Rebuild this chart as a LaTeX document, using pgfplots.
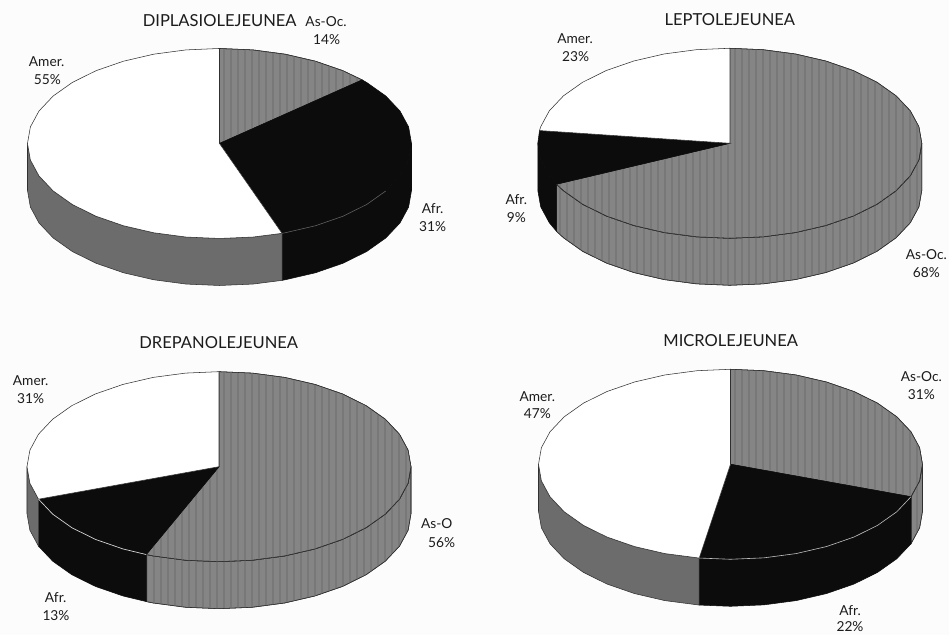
\documentclass[border=0pt]{standalone}
\usepackage{fontspec}
\setmainfont{Lato}
\usepackage{pgfplots}
\pgfplotsset{compat=1.18}
\usetikzlibrary{patterns.meta}
\definecolor{stripeg}{HTML}{858585}
\definecolor{stripel}{HTML}{787878}
\definecolor{rimg}{HTML}{6C6C6C}
\definecolor{inkk}{HTML}{0C0C0C}
\definecolor{edge}{HTML}{303030}
\definecolor{txt}{HTML}{1C1C1C}
\pgfplotsset{
  pie/.style={hide axis,clip=false,x=144pt,y=71.25pt,xmin=-1,xmax=1,ymin=-1.495,ymax=1,
    anchor=south west,no markers},
  asoc/.style={draw=edge,line width=.4pt,fill=stripeg,
    postaction={pattern={Lines[angle=90,distance=5.25pt,line width=2pt]},pattern color=stripel}},
  afr/.style={draw=inkk,line width=.4pt,fill=inkk},
  amer/.style={draw=edge,line width=.4pt,fill=white},
  amrim/.style={draw=edge,line width=.4pt,fill=rimg},
  seam/.style={draw=black!60,line width=.4pt},
}
% labels are placed in reference pixels
\newcommand{\ttl}[3]{\node[txt,inner sep=0pt,font=\fontsize{12.4}{14}\selectfont] at (#1*.75pt,{(635-#2)*.75pt}) {#3};}
\newcommand{\lab}[3]{\node[txt,inner sep=0pt,font=\fontsize{10.3}{12}\selectfont] at (#1*.75pt,{(635-#2)*.75pt}) {#3};}
\begin{document}
\begin{tikzpicture}
\fill[black!1] (0,0) rectangle (711.75pt,476.25pt);

% DIPLASIOLEJEUNEA
\begin{axis}[pie,at={(27.5*.75pt,349.5*.75pt)}]
\addplot[afr] coordinates {(1,0)(.985,-.174)(.940,-.342)(.866,-.5)(.766,-.643)(.643,-.766)(.5,-.866)(.342,-.940)(.326,-.946)
  (.326,-1.441)(.342,-1.435)(.5,-1.361)(.643,-1.261)(.766,-1.138)(.866,-.995)(.940,-.837)(.985,-.669)(1,-.495)} -- cycle;
\addplot[amrim] coordinates {(.326,-.946)(.174,-.985)(0,-1)(-.174,-.985)(-.342,-.940)(-.5,-.866)(-.643,-.766)(-.766,-.643)(-.866,-.5)(-.940,-.342)(-.985,-.174)(-1,0)
  (-1,-.495)(-.985,-.669)(-.940,-.837)(-.866,-.995)(-.766,-1.138)(-.643,-1.261)(-.5,-1.361)(-.342,-1.435)(-.174,-1.480)(0,-1.495)(.174,-1.480)(.326,-1.441)} -- cycle;
\addplot[asoc] coordinates {(0,0)(0,1)(.174,.985)(.342,.940)(.5,.866)(.643,.766)(.743,.669)} -- cycle;
\addplot[afr] coordinates {(0,0)(.743,.669)(.766,.643)(.866,.5)(.940,.342)(.985,.174)(1,0)(.985,-.174)(.940,-.342)(.866,-.5)(.766,-.643)(.643,-.766)(.5,-.866)(.342,-.940)(.326,-.946)} -- cycle;
\addplot[amer] coordinates {(0,0)(.326,-.946)(.174,-.985)(0,-1)(-.174,-.985)(-.342,-.940)(-.5,-.866)(-.643,-.766)(-.766,-.643)(-.866,-.5)(-.940,-.342)(-.985,-.174)(-1,0)(-.985,.174)(-.940,.342)(-.866,.5)(-.766,.643)(-.643,.766)(-.5,.866)(-.342,.940)(-.174,.985)(0,1)} -- cycle;
\addplot[seam] coordinates {(.866,-.5)(.766,-.643)(.643,-.766)(.5,-.866)(.342,-.940)(.326,-.946)};
\end{axis}

% LEPTOLEJEUNEA
\begin{axis}[pie,at={(537.8*.75pt,349.7*.75pt)}]
\addplot[asoc] coordinates {(1,0)(.985,-.174)(.940,-.342)(.866,-.5)(.766,-.643)(.643,-.766)(.5,-.866)(.342,-.940)(.174,-.985)(0,-1)(-.174,-.985)(-.342,-.940)(-.5,-.866)(-.643,-.766)(-.766,-.643)(-.866,-.5)(-.903,-.431)
  (-.903,-.926)(-.866,-.995)(-.766,-1.138)(-.643,-1.261)(-.5,-1.361)(-.342,-1.435)(-.174,-1.480)(0,-1.495)(.174,-1.480)(.342,-1.435)(.5,-1.361)(.643,-1.261)(.766,-1.138)(.866,-.995)(.940,-.837)(.985,-.669)(1,-.495)} -- cycle;
\addplot[afr] coordinates {(-.903,-.431)(-.940,-.342)(-.985,-.174)(-1,0)(-1,-.495)(-.985,-.669)(-.940,-.837)(-.903,-.926)} -- cycle;
\addplot[asoc] coordinates {(0,0)(0,1)(.174,.985)(.342,.940)(.5,.866)(.643,.766)(.766,.643)(.866,.5)(.940,.342)(.985,.174)(1,0)(.985,-.174)(.940,-.342)(.866,-.5)(.766,-.643)(.643,-.766)(.5,-.866)(.342,-.940)(.174,-.985)(0,-1)(-.174,-.985)(-.342,-.940)(-.5,-.866)(-.643,-.766)(-.766,-.643)(-.866,-.5)(-.903,-.431)} -- cycle;
\addplot[afr] coordinates {(0,0)(-.903,-.431)(-.940,-.342)(-.985,-.174)(-1,0)(-.991,.134)} -- cycle;
\addplot[amer] coordinates {(0,0)(-.991,.134)(-.985,.174)(-.940,.342)(-.866,.5)(-.766,.643)(-.643,.766)(-.5,.866)(-.342,.940)(-.174,.985)(0,1)} -- cycle;
\end{axis}

% DREPANOLEJEUNEA
\begin{axis}[pie,at={(27*.75pt,26.3*.75pt)}]
\addplot[asoc] coordinates {(1,0)(.985,-.174)(.940,-.342)(.866,-.5)(.766,-.643)(.643,-.766)(.5,-.866)(.342,-.940)(.174,-.985)(0,-1)(-.174,-.985)(-.342,-.940)(-.379,-.925)
  (-.379,-1.420)(-.342,-1.435)(-.174,-1.480)(0,-1.495)(.174,-1.480)(.342,-1.435)(.5,-1.361)(.643,-1.261)(.766,-1.138)(.866,-.995)(.940,-.837)(.985,-.669)(1,-.495)} -- cycle;
\addplot[afr] coordinates {(-.379,-.925)(-.5,-.866)(-.643,-.766)(-.766,-.643)(-.866,-.5)(-.940,-.342)
  (-.940,-.837)(-.866,-.995)(-.766,-1.138)(-.643,-1.261)(-.5,-1.361)(-.379,-1.420)} -- cycle;
\addplot[amrim] coordinates {(-.940,-.342)(-.985,-.174)(-1,0)(-1,-.495)(-.985,-.669)(-.940,-.837)} -- cycle;
\addplot[asoc] coordinates {(0,0)(0,1)(.174,.985)(.342,.940)(.5,.866)(.643,.766)(.766,.643)(.866,.5)(.940,.342)(.985,.174)(1,0)(.985,-.174)(.940,-.342)(.866,-.5)(.766,-.643)(.643,-.766)(.5,-.866)(.342,-.940)(.174,-.985)(0,-1)(-.174,-.985)(-.342,-.940)(-.379,-.925)} -- cycle;
\addplot[afr] coordinates {(0,0)(-.379,-.925)(-.5,-.866)(-.643,-.766)(-.766,-.643)(-.866,-.5)(-.940,-.342)} -- cycle;
\addplot[amer] coordinates {(0,0)(-.940,-.342)(-.985,-.174)(-1,0)(-.985,.174)(-.940,.342)(-.866,.5)(-.766,.643)(-.643,.766)(-.5,.866)(-.342,.940)(-.174,.985)(0,1)} -- cycle;
\addplot[draw=black!15,line width=.5pt] coordinates {(-.379,-.925)(-.5,-.866)(-.643,-.766)(-.766,-.643)(-.866,-.5)(-.940,-.342)};
\end{axis}

% MICROLEJEUNEA
\begin{axis}[pie,at={(538.5*.75pt,28.7*.75pt)}]
\addplot[asoc] coordinates {(1,0)(.985,-.174)(.940,-.342)(.940,-.837)(.985,-.669)(1,-.495)} -- cycle;
\addplot[afr] coordinates {(.940,-.342)(.866,-.5)(.766,-.643)(.643,-.766)(.5,-.866)(.342,-.940)(.174,-.985)(0,-1)(-.163,-.987)
  (-.163,-1.482)(0,-1.495)(.174,-1.480)(.342,-1.435)(.5,-1.361)(.643,-1.261)(.766,-1.138)(.866,-.995)(.940,-.837)} -- cycle;
\addplot[amrim] coordinates {(-.163,-.987)(-.342,-.940)(-.5,-.866)(-.643,-.766)(-.766,-.643)(-.866,-.5)(-.940,-.342)(-.985,-.174)(-1,0)
  (-1,-.495)(-.985,-.669)(-.940,-.837)(-.866,-.995)(-.766,-1.138)(-.643,-1.261)(-.5,-1.361)(-.342,-1.435)(-.163,-1.482)} -- cycle;
\addplot[asoc] coordinates {(0,0)(0,1)(.174,.985)(.342,.940)(.5,.866)(.643,.766)(.766,.643)(.866,.5)(.940,.342)(.985,.174)(1,0)(.985,-.174)(.940,-.342)} -- cycle;
\addplot[afr] coordinates {(0,0)(.940,-.342)(.866,-.5)(.766,-.643)(.643,-.766)(.5,-.866)(.342,-.940)(.174,-.985)(0,-1)(-.163,-.987)} -- cycle;
\addplot[amer] coordinates {(0,0)(-.163,-.987)(-.342,-.940)(-.5,-.866)(-.643,-.766)(-.766,-.643)(-.866,-.5)(-.940,-.342)(-.985,-.174)(-1,0)(-.985,.174)(-.940,.342)(-.866,.5)(-.766,.643)(-.643,.766)(-.5,.866)(-.342,.940)(-.174,.985)(0,1)} -- cycle;
\addplot[draw=black!25,line width=.45pt] coordinates {(.940,-.342)(.866,-.5)(.766,-.643)(.643,-.766)(.5,-.866)(.342,-.940)(.174,-.985)(0,-1)(-.163,-.987)};
\end{axis}

\ttl{219.7}{20.7}{DIPLASIOLEJEUNEA}
\lab{326}{21.7}{As-Oc.}
\lab{326.7}{39.3}{14\%}
\lab{46.7}{61.7}{Amer.}
\lab{47.3}{79.3}{55\%}
\lab{432.7}{209}{Afr.}
\lab{432.7}{226.7}{31\%}

\ttl{729.8}{20}{LEPTOLEJEUNEA}
\lab{575}{38.3}{Amer.}
\lab{575.7}{56.7}{23\%}
\lab{516.3}{200}{Afr.}
\lab{516.3}{217.3}{9\%}
\lab{926.3}{255}{As-Oc.}
\lab{926.3}{272.7}{68\%}

\ttl{218.7}{342.7}{DREPANOLEJEUNEA}
\lab{30.7}{380.3}{Amer.}
\lab{30.7}{398.7}{31\%}
\lab{436.7}{523.7}{As-O}
\lab{441.7}{542.7}{56\%}
\lab{55.7}{597.7}{Afr.}
\lab{56}{615.3}{13\%}

\ttl{730.7}{341}{MICROLEJEUNEA}
\lab{921.3}{377}{As-Oc.}
\lab{921.3}{394.7}{31\%}
\lab{537.3}{396.3}{Amer.}
\lab{537.3}{413.7}{47\%}
\lab{850}{610.5}{Afr.}
\lab{850}{627}{22\%}
\end{tikzpicture}
\end{document}
